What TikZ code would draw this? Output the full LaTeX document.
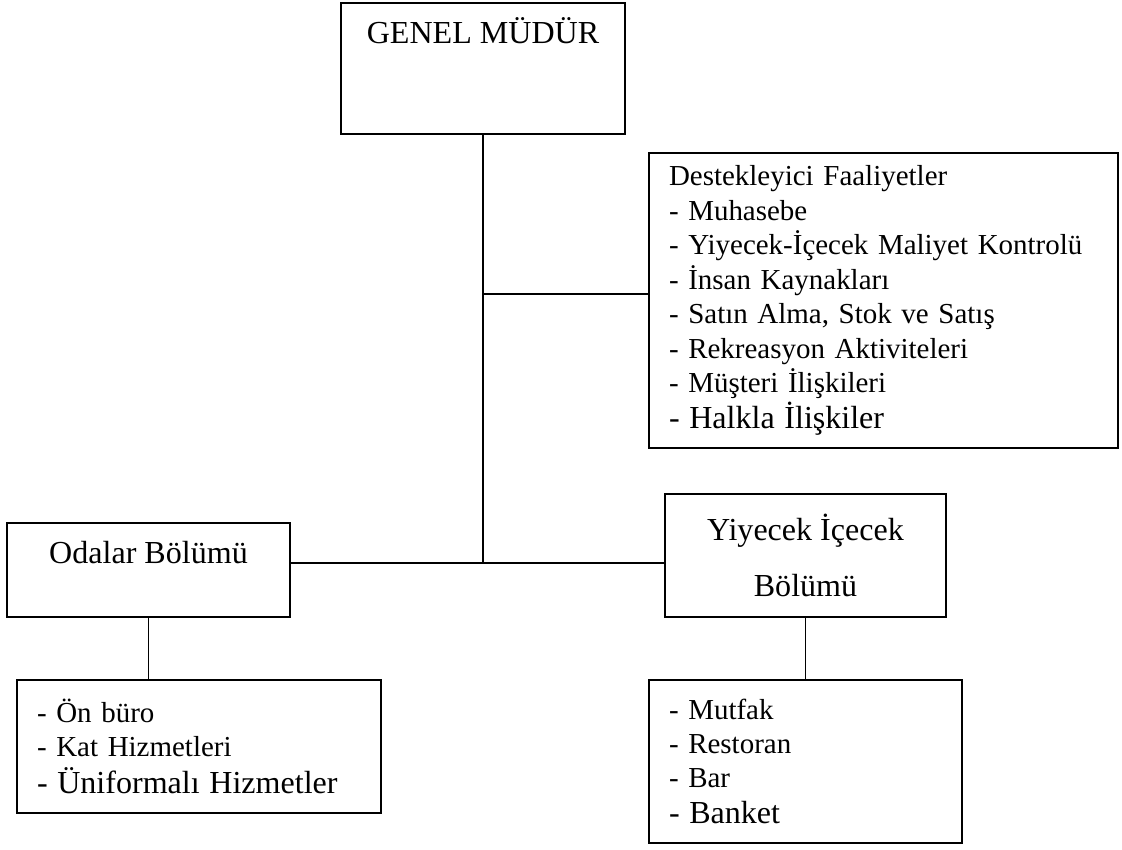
\documentclass[tikz,border=0pt]{standalone}
\usepackage{fontspec}
\setmainfont{Liberation Serif}

\newcommand\bigsz{\fontsize{22.8}{24}\selectfont}
\newcommand\smallsz{\fontsize{20.6}{24}\selectfont}

\begin{document}
\begin{tikzpicture}[line width=1.3pt,node distance=5.15cm,
                    box/.style={rectangle,draw,inner sep=0pt},
                    list box/.style={box,align=left,inner xsep=0.5cm,font=\smallsz}]
  \useasboundingbox (0,0) rectangle (28.05,-21.25);
  \node[box,minimum width=7.1cm,text height=1.0125cm,text depth=2.2625cm,font=\bigsz] (gm) at (12.075,-1.7125) {GENEL MÜDÜR};
  \node[list box,text width=10.725cm,minimum height=7.375cm,font=\fontsize{20.6}{24.5}\selectfont] (df) at (22.0875,-7.5125)
    {Destekleyici Faaliyetler\\- Muhasebe\\- Yiyecek-İçecek Maliyet Kontrolü\\- İnsan Kaynakları\\- Satın Alma, Stok ve Satış\\- Rekreasyon Aktiviteleri\\- Müşteri İlişkileri\\[1pt]{\bigsz - Halkla İlişkiler}};
  \node[box,minimum width=7.075cm,text height=1cm,text depth=1.35cm,font=\bigsz] (ob) at (3.7125,-14.25) {Odalar Bölümü};
  \node[box,align=center,minimum width=7.025cm,minimum height=3.075cm,font=\fontsize{22.8}{40}\selectfont] (yb) at (20.1375,-13.8875) {Yiyecek İçecek\\Bölümü};
  \node[list box,text width=8.1cm,minimum height=3.325cm] (ol) at (4.975,-18.6625)
    {- Ön büro\\- Kat Hizmetleri\\[2.5pt]{\bigsz - Üniformalı Hizmetler}};
  \node[list box,text width=6.825cm,minimum height=4.075cm] (yl) [below of=yb]
    {- Mutfak\\- Restoran\\- Bar\\[1.4pt]{\bigsz - Banket}};
  \coordinate (j) at (12.075,-14.075);
  \coordinate (b) at (12.075,-7.35);
  \path
    (gm) edge (j)
    (b) edge (b -| df.west)
    (ob.east |- j) edge (yb.west |- j)
    (ob) edge (ob |- ol.north)
    (yb) edge (yl);
\end{tikzpicture}
\end{document}
